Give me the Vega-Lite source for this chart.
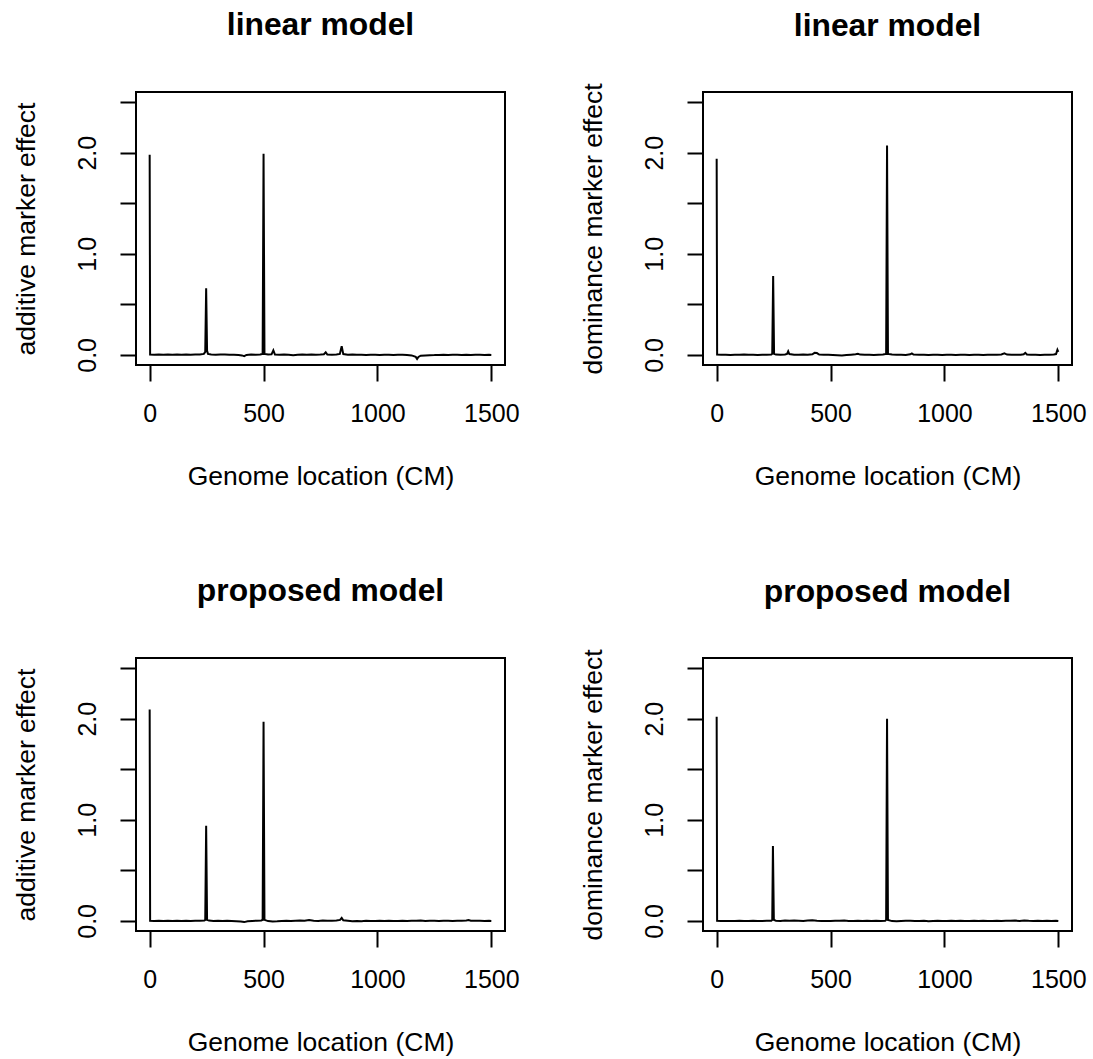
{
  "$schema": "https://vega.github.io/schema/vega-lite/v6.json",
  "background": "white",
  "padding": {"left": 12, "top": 9, "right": 0, "bottom": 0},
  "config": {
    "font": "Liberation Sans",
    "view": {"stroke": "black", "strokeWidth": 2, "fill": null},
    "axis": {
      "domain": false, "grid": false, "ticks": true, "tickColor": "black", "tickWidth": 2, "tickSize": 16,
      "labelColor": "black", "labelFont": "Liberation Sans", "labelFontSize": 25,
      "titleColor": "black", "titleFont": "Liberation Sans", "titleFontSize": 26.5, "titleFontWeight": "normal",
      "labelFlush": false, "labelOverlap": false
    },
    "axisX": {"labelBaseline": "alphabetic", "labelPadding": 40, "labelAlign": "center", "titleY": 119, "titleBaseline": "alphabetic"},
    "axisY": {"labelAngle": 270, "labelAlign": "center", "labelBaseline": "alphabetic", "labelPadding": 25, "titleX": -101.5, "titleAngle": 270, "titleBaseline": "alphabetic", "titleAlign": "center"},
    "title": {"fontSize": 31.8, "fontWeight": "bold", "font": "Liberation Sans", "color": "black", "anchor": "middle", "frame": "group", "baseline": "alphabetic", "offset": 50}
  },
  "datasets": {
    "la": [
      {"x": 0, "y": 1.98}, {"x": 2, "y": 0.004}, {"x": 20, "y": 0.002}, {"x": 40, "y": 0.003}, {"x": 60, "y": 0.001}, {"x": 80, "y": 0.004}, {"x": 100, "y": 0.002}, {"x": 120, "y": 0.003}, {"x": 140, "y": 0.001}, {"x": 160, "y": 0.004}, {"x": 180, "y": 0.002}, {"x": 200, "y": 0.003}, {"x": 220, "y": 0.004}, {"x": 238, "y": 0.01}, {"x": 244, "y": 0.03}, {"x": 248, "y": 0.66}, {"x": 252, "y": 0.04}, {"x": 256, "y": 0.01}, {"x": 270, "y": 0.004}, {"x": 290, "y": 0.002}, {"x": 310, "y": 0.005}, {"x": 330, "y": 0.003}, {"x": 350, "y": 0.001}, {"x": 370, "y": 0.002}, {"x": 390, "y": 0.0}, {"x": 405, "y": -0.005}, {"x": 415, "y": -0.012}, {"x": 425, "y": 0.0}, {"x": 445, "y": 0.003}, {"x": 465, "y": 0.002}, {"x": 485, "y": 0.004}, {"x": 496, "y": 0.01}, {"x": 500, "y": 1.99}, {"x": 504, "y": 0.01}, {"x": 520, "y": 0.003}, {"x": 535, "y": 0.005}, {"x": 543, "y": 0.045}, {"x": 550, "y": 0.004}, {"x": 570, "y": 0.002}, {"x": 590, "y": 0.003}, {"x": 610, "y": 0.001}, {"x": 630, "y": -0.003}, {"x": 650, "y": 0.002}, {"x": 670, "y": 0.003}, {"x": 690, "y": 0.001}, {"x": 710, "y": 0.004}, {"x": 730, "y": 0.002}, {"x": 750, "y": 0.003}, {"x": 765, "y": 0.006}, {"x": 773, "y": 0.025}, {"x": 780, "y": 0.004}, {"x": 800, "y": 0.002}, {"x": 820, "y": 0.004}, {"x": 835, "y": 0.01}, {"x": 843, "y": 0.086}, {"x": 850, "y": 0.008}, {"x": 870, "y": 0.002}, {"x": 890, "y": 0.003}, {"x": 910, "y": 0.001}, {"x": 930, "y": 0.002}, {"x": 950, "y": 0.0}, {"x": 970, "y": 0.002}, {"x": 990, "y": 0.001}, {"x": 1010, "y": 0.0}, {"x": 1030, "y": 0.002}, {"x": 1050, "y": 0.001}, {"x": 1070, "y": 0.0}, {"x": 1090, "y": 0.002}, {"x": 1110, "y": 0.001}, {"x": 1130, "y": 0.0}, {"x": 1150, "y": -0.005}, {"x": 1168, "y": -0.02}, {"x": 1174, "y": -0.04}, {"x": 1180, "y": -0.02}, {"x": 1190, "y": -0.008}, {"x": 1210, "y": -0.005}, {"x": 1230, "y": -0.003}, {"x": 1250, "y": -0.002}, {"x": 1270, "y": 0.0}, {"x": 1290, "y": 0.001}, {"x": 1310, "y": 0.0}, {"x": 1330, "y": 0.002}, {"x": 1350, "y": 0.001}, {"x": 1370, "y": 0.0}, {"x": 1390, "y": 0.001}, {"x": 1410, "y": 0.0}, {"x": 1430, "y": 0.002}, {"x": 1450, "y": 0.001}, {"x": 1470, "y": 0.0}, {"x": 1490, "y": 0.001}, {"x": 1500, "y": 0.0}
    ],
    "ld": [
      {"x": 0, "y": 1.94}, {"x": 2, "y": 0.003}, {"x": 20, "y": 0.001}, {"x": 40, "y": 0.002}, {"x": 60, "y": 0.0}, {"x": 80, "y": 0.002}, {"x": 100, "y": 0.001}, {"x": 120, "y": 0.003}, {"x": 140, "y": 0.001}, {"x": 160, "y": 0.002}, {"x": 180, "y": 0.0}, {"x": 200, "y": 0.002}, {"x": 220, "y": 0.001}, {"x": 240, "y": 0.003}, {"x": 244, "y": 0.01}, {"x": 248, "y": 0.78}, {"x": 252, "y": 0.01}, {"x": 260, "y": 0.003}, {"x": 280, "y": 0.002}, {"x": 300, "y": 0.004}, {"x": 309, "y": 0.01}, {"x": 314, "y": 0.035}, {"x": 319, "y": 0.008}, {"x": 340, "y": 0.002}, {"x": 360, "y": 0.001}, {"x": 380, "y": 0.003}, {"x": 400, "y": 0.002}, {"x": 420, "y": 0.006}, {"x": 430, "y": 0.02}, {"x": 440, "y": 0.018}, {"x": 450, "y": 0.004}, {"x": 470, "y": 0.002}, {"x": 490, "y": 0.001}, {"x": 510, "y": 0.0}, {"x": 530, "y": -0.003}, {"x": 550, "y": -0.006}, {"x": 570, "y": -0.002}, {"x": 590, "y": 0.002}, {"x": 610, "y": 0.006}, {"x": 620, "y": 0.01}, {"x": 630, "y": 0.003}, {"x": 650, "y": 0.001}, {"x": 670, "y": 0.002}, {"x": 690, "y": 0.0}, {"x": 710, "y": 0.002}, {"x": 730, "y": 0.003}, {"x": 744, "y": 0.01}, {"x": 748, "y": 2.07}, {"x": 752, "y": 0.01}, {"x": 770, "y": 0.003}, {"x": 790, "y": 0.001}, {"x": 810, "y": 0.002}, {"x": 830, "y": 0.0}, {"x": 850, "y": 0.006}, {"x": 857, "y": 0.015}, {"x": 864, "y": 0.004}, {"x": 890, "y": 0.001}, {"x": 910, "y": 0.002}, {"x": 930, "y": 0.0}, {"x": 950, "y": 0.001}, {"x": 970, "y": 0.002}, {"x": 990, "y": 0.0}, {"x": 1010, "y": 0.001}, {"x": 1030, "y": 0.002}, {"x": 1050, "y": 0.0}, {"x": 1070, "y": 0.001}, {"x": 1090, "y": 0.002}, {"x": 1110, "y": 0.0}, {"x": 1130, "y": 0.001}, {"x": 1150, "y": 0.002}, {"x": 1170, "y": 0.0}, {"x": 1190, "y": 0.001}, {"x": 1210, "y": 0.002}, {"x": 1230, "y": 0.001}, {"x": 1250, "y": 0.004}, {"x": 1263, "y": 0.015}, {"x": 1275, "y": 0.003}, {"x": 1295, "y": 0.001}, {"x": 1315, "y": 0.002}, {"x": 1335, "y": 0.001}, {"x": 1348, "y": 0.006}, {"x": 1355, "y": 0.02}, {"x": 1362, "y": 0.004}, {"x": 1380, "y": 0.001}, {"x": 1400, "y": 0.002}, {"x": 1420, "y": 0.0}, {"x": 1440, "y": 0.001}, {"x": 1460, "y": 0.002}, {"x": 1480, "y": 0.003}, {"x": 1490, "y": 0.008}, {"x": 1496, "y": 0.05}, {"x": 1500, "y": 0.03}
    ],
    "pa": [
      {"x": 0, "y": 2.09}, {"x": 2, "y": 0.002}, {"x": 20, "y": 0.0}, {"x": 40, "y": 0.001}, {"x": 60, "y": -0.002}, {"x": 80, "y": 0.001}, {"x": 100, "y": 0.0}, {"x": 120, "y": 0.002}, {"x": 140, "y": -0.001}, {"x": 160, "y": 0.001}, {"x": 180, "y": 0.0}, {"x": 200, "y": 0.002}, {"x": 220, "y": 0.001}, {"x": 240, "y": 0.004}, {"x": 244, "y": 0.01}, {"x": 248, "y": 0.94}, {"x": 252, "y": 0.01}, {"x": 260, "y": 0.003}, {"x": 280, "y": 0.0}, {"x": 300, "y": 0.002}, {"x": 320, "y": -0.002}, {"x": 340, "y": 0.001}, {"x": 360, "y": 0.0}, {"x": 380, "y": -0.003}, {"x": 400, "y": -0.006}, {"x": 415, "y": -0.012}, {"x": 430, "y": -0.004}, {"x": 450, "y": 0.0}, {"x": 470, "y": 0.002}, {"x": 490, "y": 0.004}, {"x": 496, "y": 0.01}, {"x": 500, "y": 1.97}, {"x": 504, "y": 0.01}, {"x": 520, "y": -0.002}, {"x": 540, "y": -0.006}, {"x": 560, "y": -0.004}, {"x": 580, "y": 0.0}, {"x": 600, "y": 0.002}, {"x": 620, "y": -0.002}, {"x": 640, "y": 0.001}, {"x": 660, "y": 0.003}, {"x": 680, "y": 0.002}, {"x": 700, "y": 0.008}, {"x": 720, "y": 0.002}, {"x": 740, "y": 0.0}, {"x": 760, "y": 0.003}, {"x": 780, "y": 0.001}, {"x": 800, "y": 0.002}, {"x": 820, "y": 0.004}, {"x": 836, "y": 0.01}, {"x": 843, "y": 0.03}, {"x": 850, "y": 0.006}, {"x": 870, "y": 0.002}, {"x": 890, "y": -0.003}, {"x": 910, "y": 0.0}, {"x": 930, "y": -0.004}, {"x": 950, "y": 0.001}, {"x": 970, "y": 0.0}, {"x": 990, "y": -0.002}, {"x": 1010, "y": 0.001}, {"x": 1030, "y": 0.0}, {"x": 1050, "y": 0.002}, {"x": 1070, "y": 0.0}, {"x": 1090, "y": -0.002}, {"x": 1110, "y": 0.001}, {"x": 1130, "y": 0.0}, {"x": 1150, "y": 0.002}, {"x": 1170, "y": 0.001}, {"x": 1190, "y": 0.003}, {"x": 1210, "y": 0.0}, {"x": 1230, "y": 0.001}, {"x": 1250, "y": 0.002}, {"x": 1270, "y": 0.0}, {"x": 1290, "y": 0.002}, {"x": 1310, "y": 0.001}, {"x": 1330, "y": 0.0}, {"x": 1350, "y": 0.002}, {"x": 1370, "y": 0.001}, {"x": 1390, "y": 0.004}, {"x": 1400, "y": 0.008}, {"x": 1410, "y": 0.002}, {"x": 1430, "y": 0.001}, {"x": 1450, "y": 0.002}, {"x": 1470, "y": 0.0}, {"x": 1490, "y": 0.001}, {"x": 1500, "y": 0.0}
    ],
    "pd": [
      {"x": 0, "y": 2.02}, {"x": 2, "y": 0.001}, {"x": 20, "y": 0.0}, {"x": 40, "y": -0.002}, {"x": 60, "y": 0.0}, {"x": 80, "y": -0.001}, {"x": 100, "y": 0.001}, {"x": 120, "y": 0.0}, {"x": 140, "y": -0.002}, {"x": 160, "y": 0.001}, {"x": 180, "y": 0.0}, {"x": 200, "y": -0.001}, {"x": 220, "y": 0.001}, {"x": 240, "y": 0.002}, {"x": 244, "y": 0.01}, {"x": 247, "y": 0.74}, {"x": 251, "y": 0.01}, {"x": 260, "y": 0.002}, {"x": 280, "y": 0.0}, {"x": 300, "y": 0.003}, {"x": 320, "y": 0.001}, {"x": 340, "y": 0.004}, {"x": 360, "y": 0.002}, {"x": 380, "y": 0.0}, {"x": 400, "y": 0.003}, {"x": 420, "y": 0.006}, {"x": 440, "y": 0.002}, {"x": 460, "y": 0.0}, {"x": 480, "y": -0.002}, {"x": 500, "y": 0.0}, {"x": 520, "y": 0.002}, {"x": 540, "y": 0.001}, {"x": 560, "y": 0.003}, {"x": 580, "y": 0.0}, {"x": 600, "y": -0.002}, {"x": 620, "y": 0.001}, {"x": 640, "y": 0.0}, {"x": 660, "y": 0.002}, {"x": 680, "y": 0.0}, {"x": 700, "y": 0.001}, {"x": 720, "y": -0.002}, {"x": 740, "y": 0.002}, {"x": 744, "y": 0.01}, {"x": 748, "y": 2.0}, {"x": 752, "y": 0.01}, {"x": 770, "y": -0.002}, {"x": 790, "y": -0.004}, {"x": 810, "y": 0.0}, {"x": 830, "y": 0.002}, {"x": 850, "y": 0.001}, {"x": 870, "y": -0.002}, {"x": 890, "y": 0.0}, {"x": 910, "y": 0.001}, {"x": 930, "y": -0.003}, {"x": 950, "y": 0.0}, {"x": 970, "y": 0.001}, {"x": 990, "y": 0.0}, {"x": 1010, "y": -0.002}, {"x": 1030, "y": 0.001}, {"x": 1050, "y": 0.0}, {"x": 1070, "y": 0.002}, {"x": 1090, "y": 0.0}, {"x": 1110, "y": -0.002}, {"x": 1130, "y": 0.001}, {"x": 1150, "y": 0.0}, {"x": 1170, "y": 0.002}, {"x": 1190, "y": 0.0}, {"x": 1210, "y": -0.002}, {"x": 1230, "y": 0.001}, {"x": 1250, "y": 0.0}, {"x": 1270, "y": 0.002}, {"x": 1290, "y": 0.001}, {"x": 1310, "y": 0.003}, {"x": 1330, "y": 0.0}, {"x": 1350, "y": 0.004}, {"x": 1370, "y": 0.001}, {"x": 1390, "y": 0.0}, {"x": 1410, "y": 0.002}, {"x": 1430, "y": 0.0}, {"x": 1450, "y": 0.001}, {"x": 1470, "y": 0.0}, {"x": 1490, "y": 0.002}, {"x": 1500, "y": 0.0}
    ]
  },
  "bounds": "flush",
  "columns": 2,
  "spacing": {"row": 293, "column": 198},
  "concat": [
    {
      "data": {"name": "la"}, "width": 369, "height": 273, "title": {"text": "linear model", "offset": 50},
      "mark": {"type": "line", "color": "black", "strokeWidth": 2},
      "encoding": {
        "x": {"field": "x", "type": "quantitative", "scale": {"domain": [-60, 1560], "nice": false, "zero": false}, "axis": {"values": [0, 500, 1000, 1500], "format": "d", "title": "Genome location (CM)"}},
        "y": {"field": "y", "type": "quantitative", "scale": {"domain": [-0.1, 2.6], "nice": false, "zero": false}, "axis": {"values": [0, 0.5, 1, 1.5, 2, 2.5], "labelExpr": "datum.value == 0 || datum.value == 1 || datum.value == 2 ? format(datum.value, '.1f') : ''", "title": "additive marker effect"}}
      }
    },
    {
      "data": {"name": "ld"}, "width": 369, "height": 273, "title": {"text": "linear model", "offset": 40.5},
      "mark": {"type": "line", "color": "black", "strokeWidth": 2},
      "encoding": {
        "x": {"field": "x", "type": "quantitative", "scale": {"domain": [-60, 1560], "nice": false, "zero": false}, "axis": {"values": [0, 500, 1000, 1500], "format": "d", "title": "Genome location (CM)"}},
        "y": {"field": "y", "type": "quantitative", "scale": {"domain": [-0.1, 2.6], "nice": false, "zero": false}, "axis": {"values": [0, 0.5, 1, 1.5, 2, 2.5], "labelExpr": "datum.value == 0 || datum.value == 1 || datum.value == 2 ? format(datum.value, '.1f') : ''", "title": "dominance marker effect"}}
      }
    },
    {
      "data": {"name": "pa"}, "width": 369, "height": 273, "title": {"text": "proposed model", "offset": 50},
      "mark": {"type": "line", "color": "black", "strokeWidth": 2},
      "encoding": {
        "x": {"field": "x", "type": "quantitative", "scale": {"domain": [-60, 1560], "nice": false, "zero": false}, "axis": {"values": [0, 500, 1000, 1500], "format": "d", "title": "Genome location (CM)"}},
        "y": {"field": "y", "type": "quantitative", "scale": {"domain": [-0.1, 2.6], "nice": false, "zero": false}, "axis": {"values": [0, 0.5, 1, 1.5, 2, 2.5], "labelExpr": "datum.value == 0 || datum.value == 1 || datum.value == 2 ? format(datum.value, '.1f') : ''", "title": "additive marker effect"}}
      }
    },
    {
      "data": {"name": "pd"}, "width": 369, "height": 273, "title": {"text": "proposed model", "offset": 40.5},
      "mark": {"type": "line", "color": "black", "strokeWidth": 2},
      "encoding": {
        "x": {"field": "x", "type": "quantitative", "scale": {"domain": [-60, 1560], "nice": false, "zero": false}, "axis": {"values": [0, 500, 1000, 1500], "format": "d", "title": "Genome location (CM)"}},
        "y": {"field": "y", "type": "quantitative", "scale": {"domain": [-0.1, 2.6], "nice": false, "zero": false}, "axis": {"values": [0, 0.5, 1, 1.5, 2, 2.5], "labelExpr": "datum.value == 0 || datum.value == 1 || datum.value == 2 ? format(datum.value, '.1f') : ''", "title": "dominance marker effect"}}
      }
    }
  ]
}
